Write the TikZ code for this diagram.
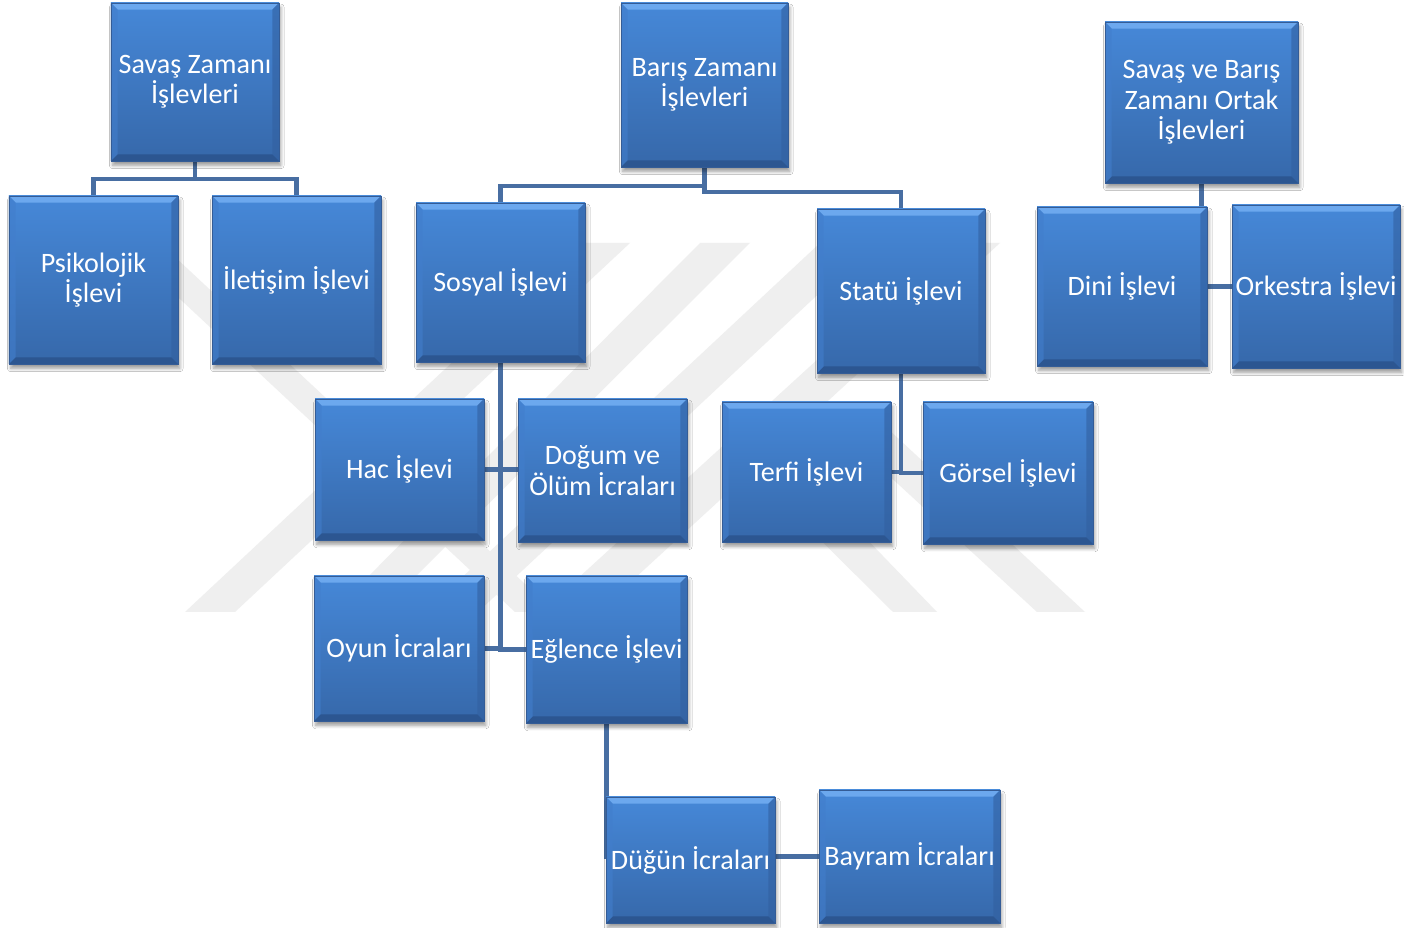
\documentclass[tikz,border=0pt]{standalone}
\usepackage{fontspec}
\setmainfont{Carlito}
\usetikzlibrary{shadows.blur,calc}
\definecolor{bxtop}{RGB}{70,136,216}
\definecolor{bxbot}{RGB}{54,104,170}
\definecolor{bvtop}{RGB}{108,168,238}
\definecolor{bvbot}{RGB}{44,86,145}
\definecolor{bvl}{RGB}{66,126,204}
\definecolor{bvr}{RGB}{50,96,160}
\definecolor{edgec}{RGB}{52,92,150}
\definecolor{connc}{RGB}{72,110,162}
\definecolor{wmc}{RGB}{239,239,239}
\pgfdeclarelayer{bg}
\pgfsetlayers{bg,main}
\newcommand\mybox[6]{%
  \pgfmathsetmacro\myBW{(#4-#2)*0.02}%
  \pgfmathsetmacro\myBH{(#5-#3)*0.02}%
  \node[boxst, minimum width=\myBW cm, minimum height=\myBH cm] (#1) at ({(#2+#4)/2},{(#3+#5)/2}) {#6};}
\def\bv{3.8pt}
\begin{document}
\begin{tikzpicture}[x=0.02cm,y=-0.02cm,
  boxst/.style={rectangle, inner sep=0pt, outer sep=0pt, text=white, align=center,
    font=\fontsize{16}{17.3}\selectfont,
    top color=bxtop, bottom color=bxbot, draw=edgec, line width=0.4pt,
    blur shadow={shadow xshift=1pt, shadow yshift=-2.5pt, shadow blur steps=6, shadow opacity=40},
    path picture={
      \fill[bvtop] (path picture bounding box.north west) -- (path picture bounding box.north east)
        -- ([xshift=-\bv,yshift=-\bv]path picture bounding box.north east)
        -- ([xshift=\bv,yshift=-\bv]path picture bounding box.north west) -- cycle;
      \fill[bvbot] (path picture bounding box.south west) -- (path picture bounding box.south east)
        -- ([xshift=-\bv,yshift=\bv]path picture bounding box.south east)
        -- ([xshift=\bv,yshift=\bv]path picture bounding box.south west) -- cycle;
      \fill[bvl, opacity=0.6] (path picture bounding box.north west) -- (path picture bounding box.south west)
        -- ([xshift=\bv,yshift=\bv]path picture bounding box.south west)
        -- ([xshift=\bv,yshift=-\bv]path picture bounding box.north west) -- cycle;
      \fill[bvr, opacity=0.6] (path picture bounding box.north east) -- (path picture bounding box.south east)
        -- ([xshift=-\bv,yshift=\bv]path picture bounding box.south east)
        -- ([xshift=-\bv,yshift=-\bv]path picture bounding box.north east) -- cycle;
    }},
  conn/.style={draw=connc, line width=2.8pt}]
\useasboundingbox (0,0) rectangle (1404,928);

\mybox{sz}{111}{3}{279}{161}{Savaş Zamanı\\İşlevleri}
\mybox{bz}{621}{3}{788}{167}{Barış Zamanı\\İşlevleri}
\mybox{ort}{1105}{22}{1298}{183}{Savaş ve Barış\\Zamanı Ortak\\İşlevleri}
\mybox{psk}{9}{196}{178}{364}{Psikolojik\\İşlevi}
\mybox{ilt}{212}{196}{381}{364}{İletişim İşlevi}
\mybox{sos}{416}{203}{585}{362}{Sosyal İşlevi}
\mybox{stt}{817}{209}{985}{373}{Statü İşlevi}
\mybox{dini}{1037}{207}{1207}{366}{Dini İşlevi}
\mybox{ork}{1232}{205}{1400}{368}{Orkestra İşlevi}
\mybox{hac}{315}{399}{484}{540}{Hac İşlevi}
\mybox{dog}{518}{399}{687}{542}{Doğum ve\\Ölüm İcraları}
\mybox{ter}{722}{402}{891}{542}{Terfi İşlevi}
\mybox{gor}{923}{402}{1093}{544}{Görsel İşlevi}
\mybox{oyn}{314}{576}{484}{721}{Oyun İcraları}
\mybox{egl}{526}{576}{687}{723}{Eğlence İşlevi}
\mybox{dug}{606}{797}{775}{923}{Düğün İcraları}
\mybox{bay}{819}{790}{1000}{923}{Bayram İcraları}

\begin{pgfonlayer}{bg}
  \fill[white] (0,0) rectangle (1404,928);
  % watermark
  \fill[wmc] (185,612) -- (235,612) -- (630,243) -- (580,243) -- cycle;
  \fill[wmc] (333,612) -- (380,612) -- (750,243) -- (700,243) -- cycle;
  \fill[wmc] (809,402) -- (859,402) -- (1085,612) -- (1037,612) -- cycle;
  \fill[wmc] (750,470) -- (800,470) -- (937,612) -- (893,612) -- cycle;
  \fill[wmc] (541,612) -- (598,612) -- (1000,243) -- (945,243) -- cycle;
  \fill[wmc] (425,612) -- (478,612) -- (873,243) -- (820,243) -- cycle;
  \fill[wmc] (120,243) -- (160,243) -- (555,612) -- (515,612) -- cycle;
  % connectors
  \coordinate (j1) at ($(sz.south)+(0,18)$);
  \draw[conn] (sz.south) -- (j1);
  \draw[conn] (psk.north) |- (j1) -| (ilt.north);
  \draw[conn] (bz.south) -- ++(0,19) -| (sos.north);
  \draw[conn] (bz.south) -- ++(0,25) -| (stt.north);
  \draw[conn] (ort.south) |- (ork.west);
  \draw[conn] (sos.south) |- (egl.west);
  \draw[conn] (oyn.east) -- (oyn.east -| sos.south);
  \draw[conn] (hac.east) -- (hac.east -| dog.west);
  \draw[conn] (stt.south) |- (gor.west);
  \draw[conn] (ter.east) -- (ter.east -| stt.south);
  \draw[conn] (egl.south) |- (bay.west);
\end{pgfonlayer}
\end{tikzpicture}
\end{document}
